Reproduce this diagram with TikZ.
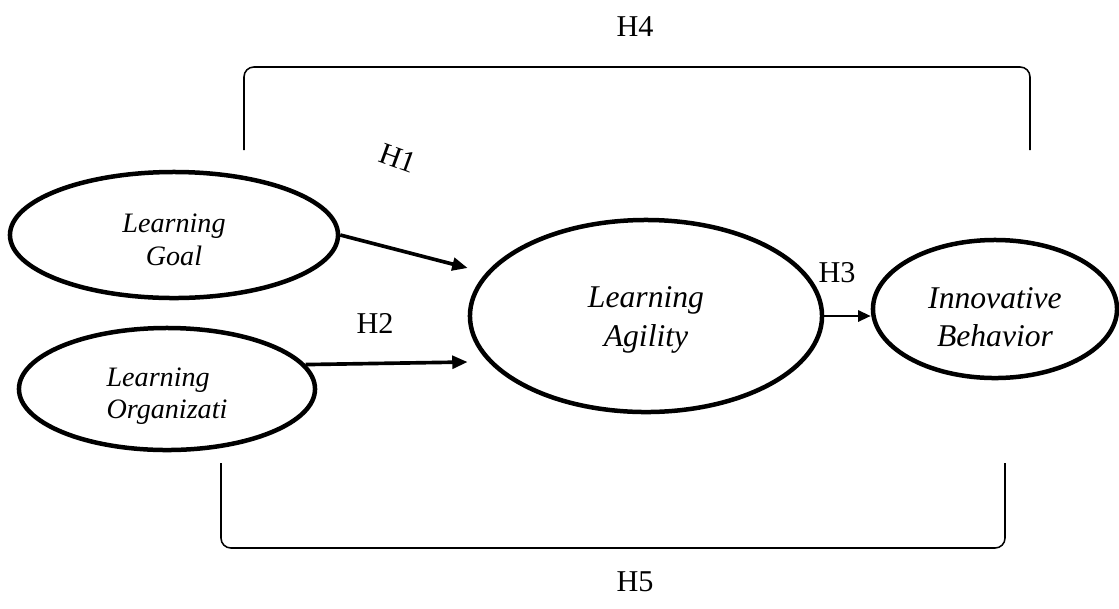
\documentclass[tikz,border=0pt]{standalone}
\usepackage{fontspec}
\setmainfont{Liberation Serif}
\usetikzlibrary{shapes.geometric,arrows.meta,positioning}

\tikzset{
  construct/.style={draw, ellipse, line width=3.2pt, inner sep=0pt, align=center},
  small/.style={font=\itshape\fontsize{20}{23}\selectfont},
  large/.style={font=\itshape\fontsize{22.5}{27.6}\selectfont},
  hyp/.style={font=\fontsize{21.5}{24}\selectfont},
  link/.style={-{Triangle[length=11pt,width=9pt]}, line width=2.6pt},
  thinlink/.style={-{Triangle[length=9pt,width=8pt]}, line width=1.6pt},
  brace/.style={line width=1.1pt, rounded corners=7pt},
}

\begin{document}
\begin{tikzpicture}[x=0.025cm, y=-0.025cm]
                \useasboundingbox (0,0) rectangle (1119,608);

                \node[construct, small, text height=43pt, minimum width=8.2cm, minimum height=3.15cm] (goal) at (174,235) {Learning\\Goal};
                \node[construct, small, align=left, text height=46pt, minimum width=7.4cm, minimum height=3.05cm] (org) at (167,389) {Learning\\Organizati};
                \node[construct, large, text height=48.6pt, minimum width=8.8cm, minimum height=4.8cm] (agility) at (646,316) {Learning\\Agility};
                \node[construct, large, text height=54pt, minimum width=6.1cm, minimum height=3.45cm] (innov) at (995,309) {Innovative\\Behavior};

                \node[hyp, rotate=-20] (h1) at (398,158) {H1};
                \node[hyp]             (h2) at (375,323) {H2};
                \node[hyp]             (h3) at (837,273) {H3};
                \node[hyp]             (h4) at (635,27)  {H4};
                \node[hyp]             (h5) at (635,582) {H5};

                % bracket ends
                \coordinate (ta) at (244,150);
                \coordinate (tb) at (1030,150);
                \coordinate (ba) at (221,463);
                \coordinate (bb) at (1005,463);

                \draw[link] (goal.east) -- ([shift={(0,-48)}]agility.west);
                \draw[link] (org.10) -- ([shift={(0,46)}]agility.west);
                \draw[thinlink] (agility.east) -- (innov.west |- agility.east);

                \draw[brace] (ta) -- (ta |- 0,67) -- (tb |- 0,67) -- (tb);
                \draw[brace] (ba) -- (ba |- 0,548) -- (bb |- 0,548) -- (bb);
            \end{tikzpicture}
\end{document}
